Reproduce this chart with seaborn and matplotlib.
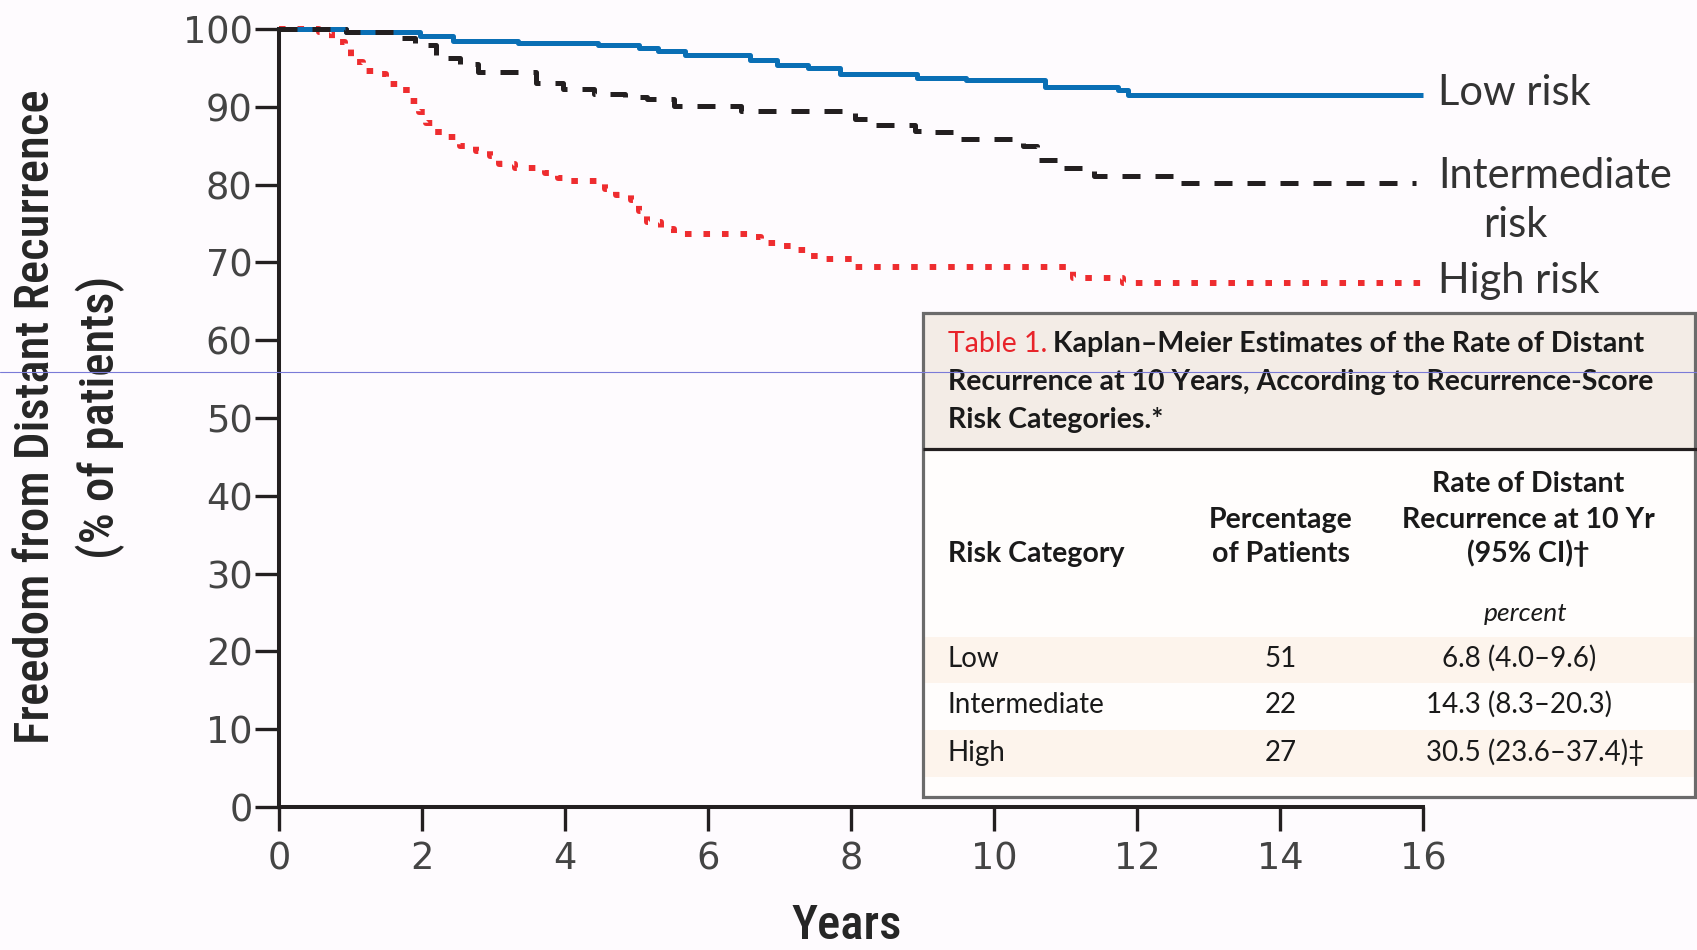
import numpy as np
import pandas as pd
import matplotlib
matplotlib.use("Agg")
import matplotlib.pyplot as plt
import seaborn as sns
from matplotlib import font_manager
from matplotlib.patches import Rectangle

# ---------------- data ----------------
low_years = [0, 0.94, 1.97, 2.43, 3.34, 4.46, 5.03, 5.30, 5.68, 6.59, 6.96, 7.40, 7.84,
             8.93, 9.61, 10.71, 11.74, 11.88, 16.0]
low_pct = [100, 99.6, 99.1, 98.5, 98.2, 97.9, 97.5, 97.2, 96.6, 96.0, 95.4, 95.0, 94.2,
           93.7, 93.4, 92.6, 92.2, 91.5, 91.5]

int_years = [0, 0.94, 1.65, 1.90, 2.20, 2.53, 2.78, 3.59, 3.97, 4.40, 4.84, 5.15, 5.53,
             6.46, 8.05, 8.33, 8.90, 9.10, 9.50, 10.40, 10.60, 10.96, 11.40, 12.50, 15.9]
int_pct = [100, 99.6, 98.8, 97.9, 96.3, 95.5, 94.5, 93.1, 92.3, 91.6, 91.3, 91.0, 90.1,
           89.4, 88.4, 87.7, 86.9, 86.7, 85.9, 85.0, 83.1, 82.1, 81.1, 80.2, 80.2]

high_years = [0, 0.56, 0.74, 0.93, 1.00, 1.18, 1.37, 1.50, 1.70, 1.83, 1.96, 2.05, 2.18,
              2.37, 2.53, 2.76, 2.95, 3.07, 3.30, 3.72, 3.90, 4.09, 4.56, 4.71, 4.93,
              5.03, 5.15, 5.34, 5.53, 6.59, 6.74, 6.96, 7.18, 7.37, 7.56, 8.02, 11.0,
              11.1, 11.8, 16.0]
high_pct = [100, 99.6, 98.3, 97.5, 95.7, 94.6, 94.2, 92.9, 92.1, 90.8, 89.3, 87.9, 86.7,
            86.1, 85.0, 84.3, 83.7, 82.6, 82.1, 81.5, 80.9, 80.5, 79.4, 78.6, 78.0,
            76.6, 75.2, 74.3, 73.7, 73.3, 72.5, 72.1, 71.6, 70.8, 70.4, 69.4, 68.9,
            68.0, 67.3, 67.3]

x_ticks = [0, 2, 4, 6, 8, 10, 12, 14, 16]
x_tick_labels = ["0", "2", "4", "6", "8", "10", "12", "14", "16"]
y_ticks = [0, 10, 20, 30, 40, 50, 60, 70, 80, 90, 100]
y_tick_labels = ["0", "10", "20", "30", "40", "50", "60", "70", "80", "90", "100"]

x_label = "Years"
y_label_lines = ["Freedom from Distant Recurrence", "(% of patients)"]

table_tag = "Table 1."
table_title_lines = ["Kaplan\u2013Meier Estimates of the Rate of Distant",
                     "Recurrence at 10 Years, According to Recurrence-Score",
                     "Risk Categories.*"]
col1_header = "Risk Category"
col2_header = ["Percentage", "of Patients"]
col3_header = ["Rate of Distant", "Recurrence at 10 Yr", "(95% CI)\u2020"]
unit_label = "percent"
risk_categories = ["Low", "Intermediate", "High"]
patient_pct = ["51", "22", "27"]
recurrence_rates = ["6.8 (4.0\u20139.6)", "14.3 (8.3\u201320.3)", "30.5 (23.6\u201337.4)\u2021"]

# ---------------- fonts ----------------
sns.set_theme(style="white")
names = {f.name for f in font_manager.fontManager.ttflist}


def pick(*cands):
    for n in cands:
        if n in names:
            return n
    return "DejaVu Sans"


NARROW = pick("Liberation Sans Narrow", "Roboto Condensed", "DejaVu Sans Condensed",
              "Open Sans Condensed", "Liberation Sans")
TICKF = "DejaVu Sans"
GILL = pick("Lato", "Open Sans", "DejaVu Sans")
plt.rcParams["font.family"] = [NARROW, "DejaVu Sans"]

BG = "#fefbfe"
INK = "#231f20"
W, H = 1697, 950

fig = plt.figure(figsize=(W / 100, H / 100), dpi=100, facecolor=BG)


def fx(px):
    return px / W


def fy(py):
    return 1 - py / H


ax = fig.add_axes([fx(279), fy(807), fx(1423) - fx(279), fy(29) - fy(807)])
ax.set_facecolor("none")

df = pd.concat([
    pd.DataFrame({"years": low_years, "pct": low_pct, "group": "Low risk"}),
    pd.DataFrame({"years": int_years, "pct": int_pct, "group": "Intermediate risk"}),
    pd.DataFrame({"years": high_years, "pct": high_pct, "group": "High risk"}),
], ignore_index=True)

styles = [
    ("High risk", "#ee2c2f", 4.3, (0, (1.1, 2.0))),
    ("Low risk", "#0a6fb5", 3.6, "-"),
    ("Intermediate risk", INK, 3.6, (0, (3.6, 3.0))),
]
for name, color, lw, ls in styles:
    sns.lineplot(data=df[df["group"] == name], x="years", y="pct", ax=ax,
                 color=color, linewidth=lw, linestyle=ls, drawstyle="steps-post",
                 estimator=None, sort=False, legend=False, clip_on=False,
                 solid_capstyle="butt", dash_capstyle="butt")

ax.set_xlim(0, 16)
ax.set_ylim(0, 100)
ax.set_xticks(x_ticks, labels=x_tick_labels, fontfamily=TICKF)
ax.set_yticks(y_ticks, labels=y_tick_labels, fontfamily=TICKF)
ax.tick_params(axis="both", direction="out", length=17, width=2.4, color=INK,
               labelsize=26.5, labelcolor="#444444", left=True, bottom=True)
ax.tick_params(axis="x", pad=7)
ax.tick_params(axis="y", pad=2)
ax.set_xlabel("")
ax.set_ylabel("")
for s in ["top", "right"]:
    ax.spines[s].set_visible(False)
for s in ["left", "bottom"]:
    ax.spines[s].set_linewidth(2.9)
    ax.spines[s].set_color(INK)
ax.grid(False)

# ---------------- overlay (pixel coords) ----------------
ov = fig.add_axes([0, 0, 1, 1])
ov.set_xlim(0, W)
ov.set_ylim(H, 0)
ov.axis("off")
ov.set_facecolor("none")
renderer = fig.canvas.get_renderer()


def fit_size(s, target, size0=20, **kw):
    t = ov.text(0, 0, s, fontsize=size0, **kw)
    w = t.get_window_extent(renderer).width
    t.remove()
    return size0 * target / w


# axis titles
ttl_kw = dict(color="#262626", fontweight="medium", family=[NARROW, "DejaVu Sans"])
ysize = fit_size(y_label_lines[0], 655, **ttl_kw)
ov.text(36, 417, y_label_lines[0], rotation=90, ha="center", va="center",
        fontsize=ysize, **ttl_kw)
ov.text(100, 417, y_label_lines[1], rotation=90, ha="center", va="center",
        fontsize=ysize, **ttl_kw)
ov.text(847, 949, x_label, ha="center", va="bottom", fontsize=ysize, **ttl_kw)

# curve labels
lab_kw = dict(fontsize=30, color="#333333", family=[GILL, "DejaVu Sans"], va="baseline", ha="left")
ov.text(1438, 105, "Low risk", **lab_kw)
ov.text(1438, 188, "Intermediate", **lab_kw)
ov.text(1483, 237, "risk", **lab_kw)
ov.text(1438, 293, "High risk", **lab_kw)

# table box
left, top, right, sep, bottom = 923, 313, 1695, 449, 797
ov.add_patch(Rectangle((left, top), W - left, sep - top, fc="#f3ece6", ec="none"))
ov.add_patch(Rectangle((left, sep), W - left, bottom - sep, fc="#fffdfc", ec="none"))
ov.add_patch(Rectangle((left + 2, 637), W - left, 46, fc="#fdf4ec", ec="none"))
ov.add_patch(Rectangle((left + 2, 730), W - left, 47, fc="#fdf4ec", ec="none"))
ov.add_patch(Rectangle((left, top), right - left, bottom - top, fill=False,
                       ec="#6b6b6b", lw=2.3))
ov.plot([left, W], [sep, sep], color=INK, lw=2.3, solid_capstyle="butt")

hfam = [GILL, "DejaVu Sans"]
hsize = fit_size(table_tag + " " + table_title_lines[0], 699, fontweight="bold", family=hfam)
head_kw = dict(fontsize=hsize, fontweight="bold", color="#1a1a1a", family=hfam, va="baseline")
t_tag = ov.text(948, 352, table_tag, **{**head_kw, "color": "#e8242a", "fontweight": "normal"})
bb = t_tag.get_window_extent(renderer)
ov.text(bb.x1 + 6, 352, table_title_lines[0], ha="left", **head_kw)
ov.text(948, 390, table_title_lines[1], ha="left", **head_kw)
ov.text(948, 428, table_title_lines[2], ha="left", **head_kw)

ov.text(948, 562, col1_header, ha="left", **head_kw)
for txt, yb in zip(col2_header, [528, 562]):
    ov.text(1281, yb, txt, ha="center", **head_kw)
for txt, yb in zip(col3_header, [492, 528, 562]):
    ov.text(1528, yb, txt, ha="center", **head_kw)
ov.text(1526, 621, unit_label, ha="center", va="baseline", fontsize=19,
        style="italic", color="#1a1a1a", family=[GILL, "DejaVu Sans"])

row_kw = dict(fontsize=20, color="#1a1a1a", family=[GILL, "DejaVu Sans"], va="baseline")
for cat, pct, rate, yb, xr in zip(risk_categories, patient_pct, recurrence_rates,
                                  [667, 713, 761], [1519, 1519, 1535]):
    ov.text(948, yb, cat, ha="left", **row_kw)
    ov.text(1281, yb, pct, ha="center", **row_kw)
    ov.text(xr, yb, rate, ha="center", **row_kw)

# thin scan line artifact
ov.plot([0, W], [372, 372], color="#7a7ad8", lw=0.8, zorder=20)

fig.savefig("out.png", dpi=100, facecolor=BG)
